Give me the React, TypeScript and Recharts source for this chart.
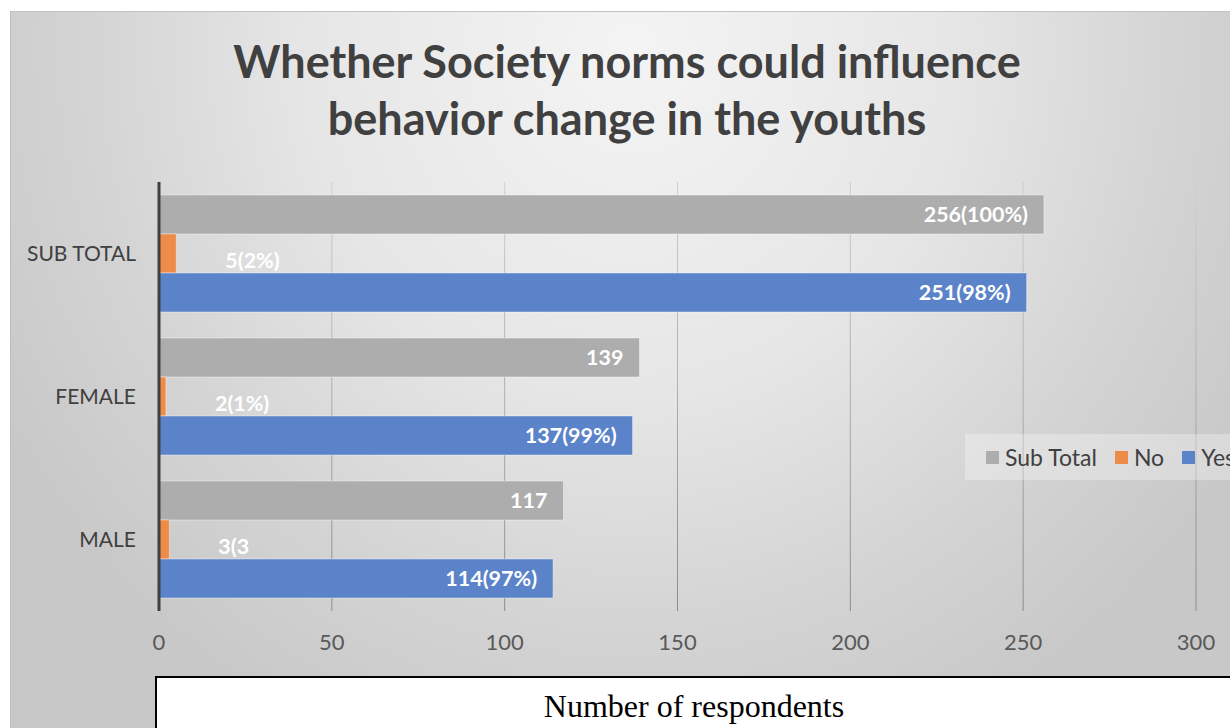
import React from 'react';
import { BarChart, Bar, XAxis, YAxis, CartesianGrid, Legend, LabelList } from 'recharts';

// Survey: whether society norms could influence behavior change in the youths
const categories = ['SUB TOTAL', 'FEMALE', 'MALE'];
const subTotalValues = [256, 139, 117];
const noValues = [5, 2, 3];
const yesValues = [251, 137, 114];
const subTotalLabels = ['256(100%)', '139', '117'];
const noLabels = ['5(2%)', '2(1%)', '3(3'];
const yesLabels = ['251(98%)', '137(99%)', '114(97%)'];
const xTicks = [0, 50, 100, 150, 200, 250, 300];

const seriesMeta = [
  { key: 'subTotal', name: 'Sub Total', color: '#adadad' },
  { key: 'no', name: 'No', color: '#ed8b48' },
  { key: 'yes', name: 'Yes', color: '#5b83c9' },
];

const data = categories.map((category, i) => ({
  category,
  subTotal: subTotalValues[i],
  no: noValues[i],
  yes: yesValues[i],
  subTotalLabel: subTotalLabels[i],
  noLabel: noLabels[i],
  yesLabel: yesLabels[i],
}));

const FONT = 'Lato, "Open Sans", sans-serif';

const NoLabel = (props: any) => {
  const { x, y, width, height, value } = props;
  return (
    <text
      x={Number(x) + Number(width) + 49}
      y={Number(y) + Number(height) / 2 + 6}
      dominantBaseline="central"
      fill="#ffffff"
      fontFamily={FONT}
      fontWeight={700}
      fontSize={21.5}
    >
      {value}
    </text>
  );
};

const LegendContent = () => (
  <div
    style={{
      display: 'flex',
      alignItems: 'center',
      height: 46,
      paddingLeft: 21,
      background: 'rgba(255,255,255,0.3)',
      fontFamily: FONT,
      fontSize: 23,
      color: '#404040',
      whiteSpace: 'nowrap',
    }}
  >
    {seriesMeta.map((s) => (
      <div key={s.key} style={{ display: 'flex', alignItems: 'center', marginRight: 18 }}>
        <span style={{ display: 'inline-block', width: 13, height: 13, background: s.color, marginRight: 6 }} />
        <span>{s.name}</span>
      </div>
    ))}
  </div>
);

export default function App() {
  return (
    <div
      style={{
        position: 'absolute',
        left: 0,
        top: 0,
        width: 1230,
        height: 728,
        overflow: 'hidden',
        background: '#ffffff',
      }}
    >
      <div
        style={{
          position: 'absolute',
          left: 10,
          top: 11,
          width: 1240,
          height: 740,
          borderLeft: '1px solid #bdbdbd',
          borderTop: '1px solid #c4c4c4',
          background:
            'radial-gradient(ellipse 720px 760px at 620px 40px, #f4f4f4 0%, #e6e6e6 45%, #d4d4d4 75%, #c8c8c8 100%)',
        }}
      />
      <div
        style={{
          position: 'absolute',
          left: 0,
          top: 33,
          width: 1254,
          textAlign: 'center',
          fontFamily: FONT,
          fontWeight: 700,
          fontSize: 45,
          lineHeight: '57px',
          color: '#404040',
        }}
      >
        Whether Society norms could influence
        <br />
        behavior change in the youths
      </div>
      <div style={{ position: 'absolute', left: 0, top: 0 }}>
        <BarChart
          width={1230}
          height={728}
          data={data}
          layout="vertical"
          margin={{ top: 182, right: 34, bottom: 77, left: 19 }}
          barCategoryGap={13}
          barGap={0}
        >
          <defs>
            <linearGradient id="gridStroke" gradientUnits="userSpaceOnUse" x1="0" y1="182" x2="0" y2="611">
              <stop offset="0%" stopColor="#cfcfcf" />
              <stop offset="100%" stopColor="#8c8c8c" />
            </linearGradient>
          </defs>
          <CartesianGrid horizontal={false} stroke="url(#gridStroke)" />
          <XAxis
            type="number"
            domain={[0, 300]}
            ticks={xTicks}
            height={40}
            axisLine={false}
            tickLine={false}
            tickSize={0}
            tickMargin={23}
            tick={{ fill: '#595959', fontSize: 22, fontFamily: FONT }}
            interval={0}
          />
          <YAxis
            type="category"
            dataKey="category"
            width={140}
            axisLine={{ stroke: '#404040', strokeWidth: 3 }}
            tickLine={false}
            tickSize={0}
            tickMargin={23}
            tick={{ fill: '#404040', fontSize: 21, fontFamily: FONT }}
          />
          <Legend
            layout="horizontal"
            verticalAlign="middle"
            align="center"
            content={<LegendContent />}
            wrapperStyle={{ position: 'absolute', left: 965, top: 434, width: 300, height: 46 }}
          />
          <Bar
            dataKey="subTotal"
            name="Sub Total"
            fill="#adadad"
            stroke="rgba(255,255,255,0.4)"
            strokeWidth={1}
            isAnimationActive={false}
          >
            <LabelList
              dataKey="subTotalLabel"
              position="insideRight"
              offset={16}
              fill="#ffffff"
              fontSize={21.5}
              fontWeight={700}
              fontFamily={FONT}
            />
          </Bar>
          <Bar
            dataKey="no"
            name="No"
            fill="#ed8b48"
            stroke="rgba(255,255,255,0.4)"
            strokeWidth={1}
            isAnimationActive={false}
          >
            <LabelList dataKey="noLabel" content={<NoLabel />} />
          </Bar>
          <Bar
            dataKey="yes"
            name="Yes"
            fill="#5b83c9"
            stroke="rgba(255,255,255,0.4)"
            strokeWidth={1}
            isAnimationActive={false}
          >
            <LabelList
              dataKey="yesLabel"
              position="insideRight"
              offset={16}
              fill="#ffffff"
              fontSize={21.5}
              fontWeight={700}
              fontFamily={FONT}
            />
          </Bar>
        </BarChart>
      </div>
      <div
        style={{
          position: 'absolute',
          left: 155,
          top: 676,
          width: 1074,
          height: 80,
          border: '2px solid #000000',
          background: '#ffffff',
        }}
      >
        <div
          style={{
            paddingTop: 12,
            textAlign: 'center',
            fontFamily: '"Liberation Serif", "Times New Roman", serif',
            fontSize: 32,
            lineHeight: '32px',
            color: '#000000',
          }}
        >
          Number of respondents
        </div>
      </div>
    </div>
  );
}
